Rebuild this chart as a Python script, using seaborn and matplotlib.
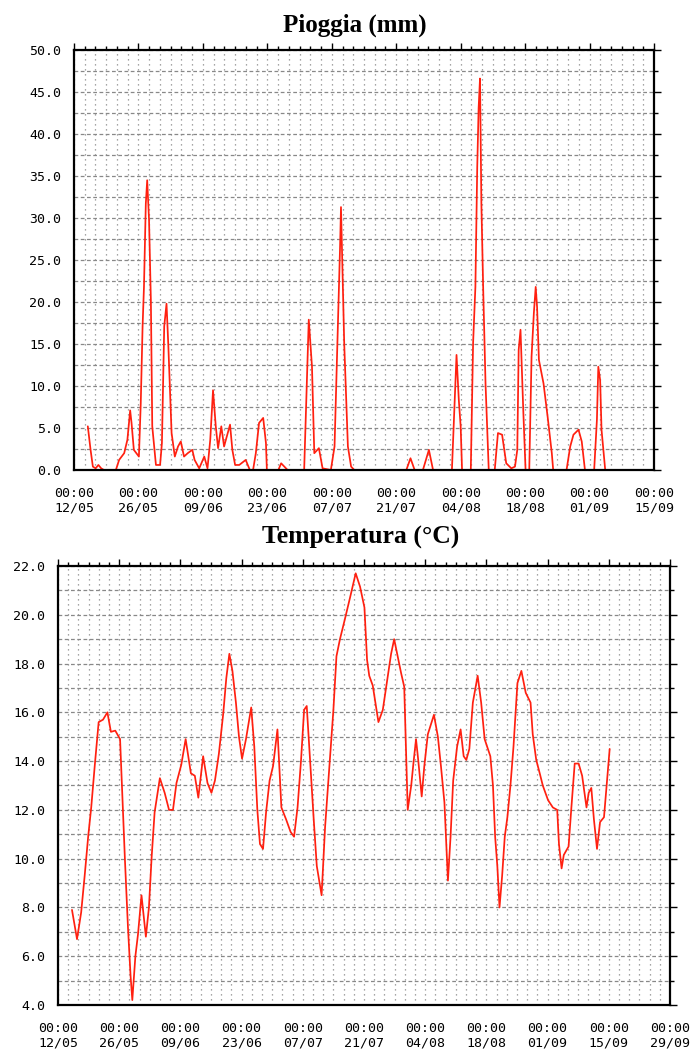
import numpy as np
import pandas as pd
import matplotlib
matplotlib.use("Agg")
import matplotlib.pyplot as plt
import matplotlib.dates as mdates
import matplotlib.ticker as mticker
import seaborn as sns

# days after 12/05 00:00 and readings
rain_day = [3.0, 3.6, 4.1, 4.7, 5.3, 5.9, 6.5, 9.1, 9.8, 10.9, 11.6, 12.2, 12.5, 13.0, 14.1,
            14.5, 14.9, 15.2, 15.6, 15.9, 16.3, 16.7, 17.0, 17.8, 18.7, 19.1, 19.6, 20.1, 20.5,
            21.2, 21.9, 22.6, 23.2, 23.9, 24.7, 25.7, 26.2, 27.2, 28.3, 29.0, 29.6, 30.2, 30.8,
            31.3, 32.0, 32.6, 33.9, 34.4, 35.0, 35.9, 37.3, 38.2, 38.9, 39.5, 40.2, 41.1, 41.7,
            41.9, 44.4, 45.0, 46.4, 50.0, 50.5, 51.0, 51.3, 51.7, 52.2, 53.2, 54.0, 55.8, 56.6,
            57.3, 57.8, 58.0, 58.4, 58.7, 59.5, 60.2, 60.9, 72.2, 73.1, 74.0, 75.8, 77.1, 78.0,
            82.1, 82.6, 83.1, 83.6, 84.0, 84.3, 86.2, 86.7, 87.2, 87.6, 87.9, 88.2, 88.5, 88.9,
            89.4, 90.1, 91.4, 92.1, 93.0, 93.9, 95.0, 95.8, 96.3, 96.6, 97.0, 97.6, 98.1, 98.9,
            99.4, 99.9, 100.3, 100.6, 101.0, 102.0, 102.9, 103.8, 104.1, 107.0, 107.8, 108.5,
            109.6, 110.3, 111.0, 113.0, 113.6, 113.9, 114.3, 114.6, 115.4]
rain_mm = [5.2, 2.4, 0.4, 0.2, 0.6, 0.2, 0.0, 0.0, 1.2, 2.0, 3.6, 7.1, 5.6, 2.4, 1.6,
           7.9, 17.1, 21.8, 31.7, 34.5, 29.8, 20.2, 5.2, 0.6, 0.6, 3.2, 17.1, 19.8, 14.7,
           4.4, 1.6, 2.8, 3.4, 1.6, 2.0, 2.4, 1.2, 0.2, 1.6, 0.2, 3.6, 9.5, 5.2,
           2.6, 5.2, 2.8, 5.4, 2.4, 0.6, 0.6, 1.2, 0.0, 0.0, 2.0, 5.6, 6.2, 3.2,
           0.0, 0.0, 0.8, 0.0, 0.0, 9.1, 17.9, 15.5, 12.3, 2.0, 2.6, 0.2, 0.0, 2.8,
           16.7, 26.6, 31.3, 21.8, 15.1, 2.8, 0.4, 0.0, 0.0, 1.4, 0.0, 0.0, 2.4, 0.0,
           0.0, 6.7, 13.7, 8.3, 5.2, 0.0, 0.0, 15.1, 21.8, 36.1, 43.1, 46.6, 31.7, 21.4,
           10.3, 0.0, 0.0, 4.4, 4.2, 0.8, 0.2, 0.4, 2.4, 14.3, 16.7, 7.1, 0.0, 0.0,
           13.5, 18.7, 21.8, 19.4, 13.1, 10.3, 6.3, 2.0, 0.0, 0.0, 2.8, 4.2,
           4.8, 3.4, 0.0, 0.0, 6.0, 12.3, 10.7, 4.8, 0.0]

temp_day = [3.2, 4.35, 5.3, 6.1, 6.9, 7.6, 8.4, 9.3, 10.3, 11.3, 12.1, 13.1, 14.2, 14.7, 15.3,
            16.0, 16.6, 17.0, 17.7, 18.3, 19.1, 20.1, 20.8, 21.4, 22.1, 23.3, 24.4, 25.4, 26.3,
            27.1, 28.2, 29.2, 30.4, 31.3, 32.1, 33.2, 34.2, 35.1, 35.9, 36.8, 37.8, 38.5, 39.2,
            39.9, 40.7, 41.4, 42.1, 43.0, 44.2, 44.9, 45.6, 46.2, 46.9, 47.6, 48.4, 49.2, 50.2,
            51.1, 52.2, 53.2, 54.0, 54.8, 55.6, 56.3, 56.9, 57.6, 58.5, 59.2, 60.3, 61.1, 62.0,
            63.0, 63.7, 64.5, 65.6, 66.8, 68.1, 69.1, 70.1, 70.7, 71.2, 72.0, 73.3, 74.3, 75.3,
            76.2, 76.9, 77.7, 78.5, 79.2, 79.6, 80.0, 80.8, 81.3, 81.9, 82.4, 83.2, 83.8, 84.6,
            86.0, 86.9, 87.6, 88.4, 89.2, 89.8, 90.4, 91.3, 92.1, 92.8, 93.4, 94.1, 94.9, 96.0,
            96.8, 97.6, 98.9, 99.5, 100.0, 100.5, 101.0, 101.6, 102.2, 102.8, 103.5, 104.2, 105.1,
            106.0, 107.0, 108.1, 108.6, 109.4, 110.2, 110.9, 112.1, 113.2, 114.2, 114.6, 115.2,
            115.7, 116.8, 117.4, 118.2, 119.1, 119.9, 120.9, 121.4, 122.0, 122.6, 123.3, 124.0,
            124.9, 125.7, 126.2]
temp_c = [7.9, 6.7, 7.8, 9.3, 10.9, 12.1, 13.8, 15.6, 15.7, 16.0, 15.2, 15.25, 14.9, 12.7, 10.0,
          7.2, 5.2, 4.2, 6.0, 6.9, 8.5, 6.8, 8.0, 10.0, 11.9, 13.3, 12.7, 12.0, 12.0,
          13.1, 13.85, 14.9, 13.5, 13.4, 12.5, 14.2, 13.1, 12.7, 13.2, 14.3, 15.95, 17.4, 18.4,
          17.7, 16.4, 15.0, 14.1, 14.9, 16.2, 14.6, 12.0, 10.6, 10.4, 11.9, 13.2, 13.8, 15.3,
          12.1, 11.6, 11.1, 10.9, 12.1, 14.05, 16.1, 16.26, 14.2, 11.6, 9.7, 8.5, 11.3, 13.6,
          16.1, 18.3, 19.0, 19.8, 20.7, 21.7, 21.15, 20.3, 18.15, 17.5, 17.1, 15.6, 16.1, 17.3,
          18.4, 19.0, 18.3, 17.6, 17.05, 14.6, 12.0, 13.0, 13.9, 14.9, 14.05, 12.55, 13.8, 15.1,
          15.9, 15.0, 13.8, 12.3, 9.1, 10.9, 13.2, 14.6, 15.3, 14.2, 14.05, 14.5, 16.4, 17.5,
          16.4, 14.9, 14.2, 13.0, 10.9, 9.7, 8.0, 9.3, 10.9, 11.7, 13.0, 14.6, 17.2,
          17.7, 16.8, 16.4, 15.1, 14.05, 13.5, 13.0, 12.4, 12.1, 12.0, 10.6, 9.6,
          10.15, 10.5, 12.0, 13.9, 13.9, 13.4, 12.1, 12.7, 12.9, 11.6, 10.4, 11.5,
          11.7, 13.4, 14.5]

start = pd.Timestamp("2014-05-12")
rain = pd.DataFrame({"time": start + pd.to_timedelta(rain_day, unit="D"), "mm": rain_mm})
temp = pd.DataFrame({"time": start + pd.to_timedelta(temp_day, unit="D"), "c": temp_c})

sns.set_style("white")
fig = plt.figure(figsize=(6.9, 10.54), dpi=100)
ax1 = fig.add_axes([74 / 690, 1 - 470 / 1054, 580 / 690, 420 / 1054])
ax2 = fig.add_axes([58 / 690, 1 - 1005 / 1054, 612 / 690, 439 / 1054])

red = "#ff2010"
sns.lineplot(data=rain, x="time", y="mm", ax=ax1, color=red, linewidth=1.25)
sns.lineplot(data=temp, x="time", y="c", ax=ax2, color=red, linewidth=1.25)


def style(ax, days, ylo, yhi, ystep):
    t0 = mdates.date2num(start)
    ax.set_xlim(t0, t0 + days)
    ax.set_ylim(ylo, yhi)
    ax.xaxis.set_major_locator(mticker.FixedLocator(t0 + np.arange(0, days + 0.01, 14)))
    ax.xaxis.set_minor_locator(mticker.FixedLocator(t0 + np.arange(0, days + 0.01, 14 / 6)))
    ax.xaxis.set_major_formatter(mdates.DateFormatter("%H:%M\n%d/%m"))
    ax.yaxis.set_major_locator(mticker.MultipleLocator(ystep))
    ax.yaxis.set_minor_locator(mticker.MultipleLocator(ystep / 2))
    ax.yaxis.set_major_formatter(mticker.FormatStrFormatter("%.1f"))
    ax.set_xlabel("")
    ax.set_ylabel("")
    ax.grid(which="both", axis="x", color="#888888", linestyle=(0, (1, 3)), linewidth=0.9)
    ax.grid(which="both", axis="y", color="#888888", linestyle=(0, (3, 2)), linewidth=0.9)
    for s in ax.spines.values():
        s.set_visible(True)
        s.set_color("black")
        s.set_linewidth(1.6)
    ax.tick_params(which="both", direction="out", top=True, right=True,
                   labeltop=False, labelright=False, width=1, color="black")
    ax.tick_params(which="major", length=5)
    ax.tick_params(which="minor", length=3)
    ax.tick_params(axis="x", pad=7)
    ax.tick_params(axis="y", pad=4)
    for lab in ax.get_xticklabels() + ax.get_yticklabels():
        lab.set_family("DejaVu Sans Mono")
        lab.set_fontsize(9.5)
        lab.set_color("black")


style(ax1, 126, 0, 50, 5)
style(ax2, 140, 4, 22, 2)

fig.text(0.514, 1 - 25 / 1054, "Pioggia (mm)", ha="center", va="center", color="black",
         fontsize=18, fontweight="bold", family="Liberation Serif")
fig.text(0.522, 1 - 537 / 1054, "Temperatura (°C)", ha="center", va="center", color="black",
         fontsize=18.5, fontweight="bold", family="Liberation Serif")

fig.savefig("out.png", dpi=100)
